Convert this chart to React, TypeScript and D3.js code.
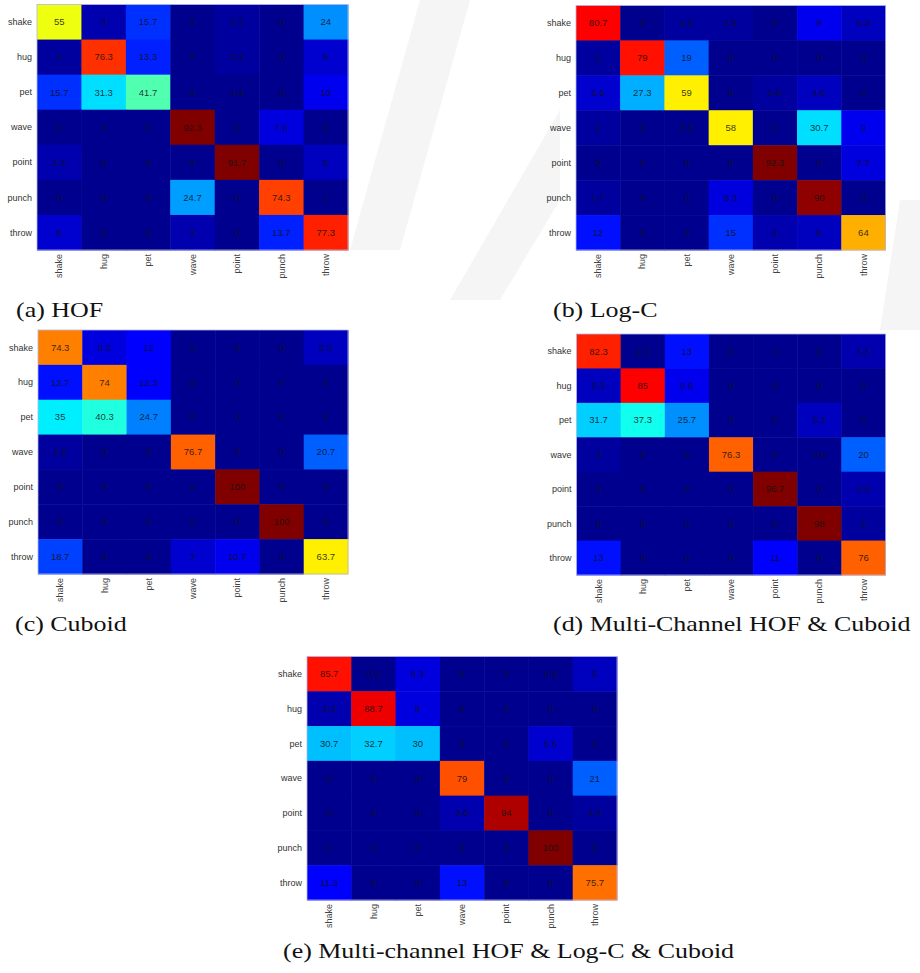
import React from "react";
import * as d3 from "d3";

const categories = ["shake", "hug", "pet", "wave", "point", "punch", "throw"];

const hofValues = [
  [55, 3, 15.7, 0, 2.3, 0, 24],
  [2, 76.3, 13.3, 0, 2.3, 0, 6],
  [15.7, 31.3, 41.7, 0, 1.3, 0, 10],
  [0, 0, 0, 92.3, 0, 7.6, 0],
  [3.3, 0, 0, 0, 91.7, 0, 5],
  [0, 0, 0, 24.7, 0, 74.3, 1],
  [6, 0, 0, 3, 0, 13.7, 77.3],
];

const logCValues = [
  [80.7, 0, 2.3, 2.6, 0, 9, 5.3],
  [2, 79, 19, 0, 0, 0, 0],
  [6.6, 27.3, 59, 0, 2.6, 4.6, 0],
  [2, 0, 0.3, 58, 0, 30.7, 9],
  [0, 0, 0, 0, 92.3, 0, 7.7],
  [1.7, 0, 0, 8.3, 0, 90, 0],
  [12, 0, 0, 15, 4, 5, 64],
];

const cuboidValues = [
  [74.3, 8.3, 12, 0, 0, 0, 5.3],
  [13.7, 74, 12.3, 0, 0, 0, 0],
  [35, 40.3, 24.7, 0, 0, 0, 0],
  [2.6, 0, 0, 76.7, 0, 0, 20.7],
  [0, 0, 0, 0, 100, 0, 0],
  [0, 0, 0, 0, 0, 100, 0],
  [18.7, 0, 0, 7, 10.7, 0, 63.7],
];

const hofCuboidValues = [
  [82.3, 1.3, 13, 0, 0, 0, 3.3],
  [5.3, 85, 9.6, 0, 0, 0, 0],
  [31.7, 37.3, 25.7, 0, 0, 5.3, 0],
  [3, 0, 0, 76.3, 0, 0.6, 20],
  [0, 0, 0, 0, 96.7, 0, 3.3],
  [0, 0, 0, 0, 0, 98, 2],
  [13, 0, 0, 0, 11, 0, 76],
];

const hofLogCCuboidValues = [
  [85.7, 0.3, 8.3, 0, 0, 0.6, 5],
  [3.3, 88.7, 8, 0, 0, 0, 0],
  [30.7, 32.7, 30, 0, 0, 6.6, 0],
  [0, 0, 0, 79, 0, 0, 21],
  [0, 0, 0, 3.6, 94, 0, 2.3],
  [0, 0, 0, 0, 0, 100, 0],
  [11.3, 0, 0, 13, 0, 0, 75.7],
];

const captions = [
  "(a) HOF",
  "(b) Log-C",
  "(c) Cuboid",
  "(d) Multi-Channel HOF & Cuboid",
  "(e) Multi-channel HOF & Log-C & Cuboid",
];

const matrices = [hofValues, logCValues, cuboidValues, hofCuboidValues, hofLogCCuboidValues];

// layout (positions in page pixels)
const layouts = [
  { x0: 37, x1: 348, y0: 4.5, y1: 250, cx: 16, cy: 317 },
  { x0: 576, x1: 885.5, y0: 5.5, y1: 250, cx: 553, cy: 317 },
  { x0: 38, x1: 348, y0: 330, y1: 574, cx: 15, cy: 631 },
  { x0: 576.5, x1: 885.5, y0: 334, y1: 575, cx: 553, cy: 631 },
  { x0: 307, x1: 617, y0: 656.5, y1: 900, cx: 283, cy: 958 },
];

// MATLAB jet(64) colormap
function jetColors(m: number): string[] {
  const n = Math.ceil(m / 4);
  const u: number[] = [];
  for (let i = 1; i <= n; i++) u.push(i / n);
  for (let i = 1; i < n; i++) u.push(1);
  for (let i = n; i >= 1; i--) u.push(i / n);
  const g0 = Math.ceil(n / 2) - (m % 4 === 1 ? 1 : 0);
  const J = Array.from({ length: m }, () => [0, 0, 0]);
  for (let j = 1; j <= u.length; j++) {
    const g = g0 + j;
    const r = g + n;
    const b = g - n;
    if (r >= 1 && r <= m) J[r - 1][0] = u[j - 1];
    if (g >= 1 && g <= m) J[g - 1][1] = u[j - 1];
    if (b >= 1 && b <= m) J[b - 1][2] = u[j - 1];
  }
  return J.map(([r, g, b]) => d3.rgb(r * 255, g * 255, b * 255).formatHex());
}

const JET = jetColors(64);

function Panel({ values, layout, caption }: { values: number[][]; layout: any; caption: string }) {
  const x = d3.scaleBand<string>().domain(categories).range([layout.x0, layout.x1]);
  const y = d3.scaleBand<string>().domain(categories).range([layout.y0, layout.y1]);
  const maxV = d3.max(values.flat()) as number;
  const color = d3.scaleQuantize<string>().domain([0, maxV]).range(JET);
  return (
    <g>
      {values.map((row, i) =>
        row.map((v, j) => (
          <rect
            key={`r${i}-${j}`}
            x={x(categories[j])}
            y={y(categories[i])}
            width={x.bandwidth() + 0.5}
            height={y.bandwidth() + 0.5}
            fill={color(v)}
          />
        ))
      )}
      <rect
        x={layout.x0}
        y={layout.y0}
        width={layout.x1 - layout.x0}
        height={layout.y1 - layout.y0}
        fill="none"
        stroke="#b4b4e6"
        strokeWidth={0.8}
      />
      {values.map((row, i) =>
        row.map((v, j) => (
          <text
            key={`t${i}-${j}`}
            x={(x(categories[j]) as number) + x.bandwidth() / 2}
            y={(y(categories[i]) as number) + y.bandwidth() / 2}
            dy="0.35em"
            textAnchor="middle"
            fontFamily="'Liberation Sans', Arial, sans-serif"
            fontSize={9.5}
            fill="#111"
            fillOpacity={0.85}
          >
            {v}
          </text>
        ))
      )}
      {categories.map((c) => (
        <text
          key={`y${c}`}
          x={layout.x0 - 5}
          y={(y(c) as number) + y.bandwidth() / 2}
          dy="0.35em"
          textAnchor="end"
          fontFamily="'Liberation Sans', Arial, sans-serif"
          fontSize={9}
          fill="#333"
        >
          {c}
        </text>
      ))}
      {categories.map((c) => (
        <text
          key={`x${c}`}
          transform={`translate(${(x(c) as number) + x.bandwidth() / 2},${layout.y1 + 4}) rotate(-90)`}
          dy="0.35em"
          textAnchor="end"
          fontFamily="'Liberation Sans', Arial, sans-serif"
          fontSize={9}
          fill="#444"
        >
          {c}
        </text>
      ))}
      <text
        transform={`translate(${layout.cx},${layout.cy}) scale(1.18,1)`}
        fontFamily="'Liberation Serif', 'Times New Roman', serif"
        fontSize={22}
        fill="#111"
      >
        {caption}
      </text>
    </g>
  );
}

export default function App() {
  return (
    <svg
      width={920}
      height={973}
      style={{ position: "absolute", left: 0, top: 0, background: "#fff" }}
    >
      <rect x={0} y={0} width={920} height={973} fill="#fff" />
      <g fill="#f5f5f5">
        <polygon points="420,0 470,0 400,250 350,250" />
        <polygon points="560,110 560,200 500,300 450,300" />
        <polygon points="900,200 920,200 920,330 880,330" />
      </g>
      {matrices.map((m, k) => (
        <Panel key={k} values={m} layout={layouts[k]} caption={captions[k]} />
      ))}
    </svg>
  );
}
